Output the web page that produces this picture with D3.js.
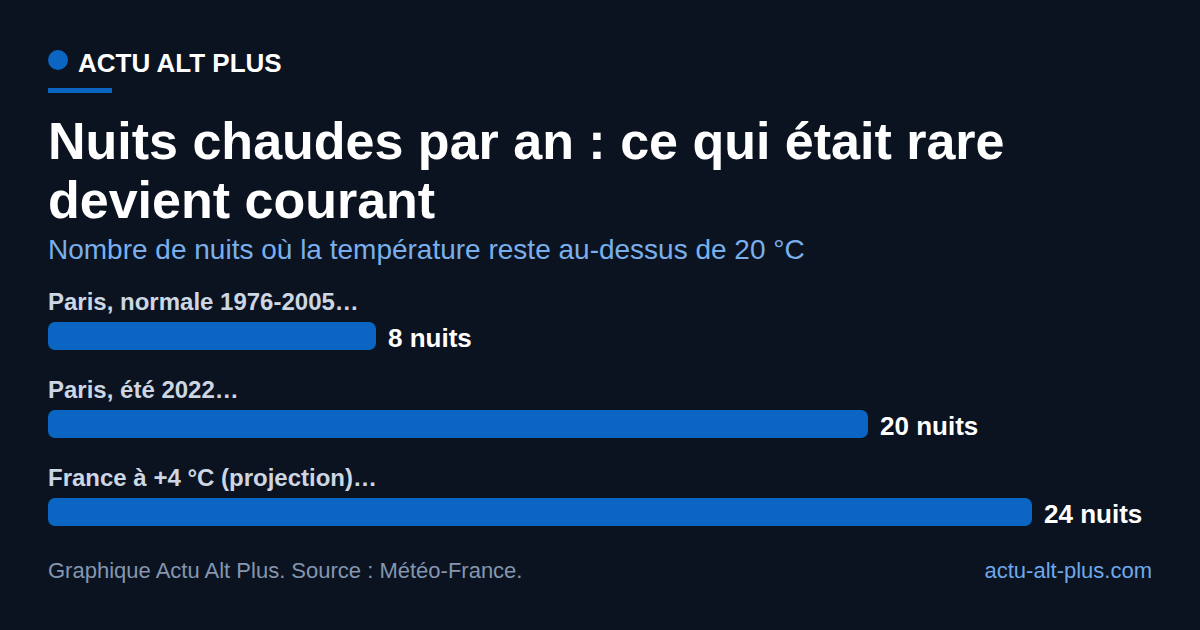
<!DOCTYPE html>
<html lang="fr">
<head>
  <meta charset="UTF-8">
  <title>Nuits chaudes par an</title>
  <script src="https://d3js.org/d3.v7.min.js"></script>
  <style>
    html, body { margin: 0; padding: 0; background: #0b1320; }
    svg { display: block; font-family: "Liberation Sans", Arial, sans-serif; }
    .brand { font-size: 26px; font-weight: bold; fill: #ffffff; }
    .title { font-size: 52px; font-weight: bold; fill: #ffffff; }
    .subtitle { font-size: 28px; fill: #79b0ec; }
    .cat { font-size: 24px; font-weight: bold; fill: #cdd6e3; }
    .val { font-size: 26px; font-weight: bold; fill: #ffffff; }
    .foot { font-size: 22px; fill: #8496b0; }
    .url { font-size: 22px; fill: #6ea8ea; text-anchor: end; }
  </style>
</head>
<body>
  <div id="chart"></div>
  <script>
    const categories = ["Paris, normale 1976-2005…", "Paris, été 2022…", "France à +4 °C (projection)…"];
    const nights = [8, 20, 24];
    const unit = "nuits";

    const width = 1200, height = 630;
    const left = 48;

    const svg = d3.select("#chart")
      .append("svg")
      .attr("width", width)
      .attr("height", height);

    svg.append("rect").attr("width", width).attr("height", height).attr("fill", "#0b1320");

    // brand header
    svg.append("circle").attr("cx", 58).attr("cy", 60).attr("r", 10).attr("fill", "#0b66c3");
    svg.append("text").attr("class", "brand").attr("x", 78).attr("y", 72).text("ACTU ALT PLUS");
    svg.append("rect").attr("x", left).attr("y", 88).attr("width", 64).attr("height", 5).attr("fill", "#0b66c3");

    // title + subtitle
    svg.append("text").attr("class", "title").attr("x", left).attr("y", 159)
      .text("Nuits chaudes par an : ce qui était rare");
    svg.append("text").attr("class", "title").attr("x", left).attr("y", 218)
      .text("devient courant");
    svg.append("text").attr("class", "subtitle").attr("x", left).attr("y", 259)
      .text("Nombre de nuits où la température reste au-dessus de 20 °C");

    // scales
    const x = d3.scaleLinear().domain([0, 24]).range([left, 1032]);
    const y = d3.scaleBand().domain(categories).range([322, 586]).paddingInner(0).paddingOuter(0);
    const barH = 28;

    const rows = svg.selectAll(".row")
      .data(categories.map((c, i) => ({ cat: c, v: nights[i] })))
      .enter()
      .append("g")
      .attr("class", "row");

    rows.append("text")
      .attr("class", "cat")
      .attr("x", left)
      .attr("y", d => y(d.cat) - 12)
      .text(d => d.cat);

    rows.append("rect")
      .attr("x", x(0))
      .attr("y", d => y(d.cat))
      .attr("width", d => x(d.v) - x(0))
      .attr("height", barH)
      .attr("rx", 7)
      .attr("fill", "#0b66c3");

    rows.append("text")
      .attr("class", "val")
      .attr("x", d => x(d.v) + 12)
      .attr("y", d => y(d.cat) + barH / 2 + 11)
      .text(d => d.v + " " + unit);

    // footer
    svg.append("text").attr("class", "foot").attr("x", left).attr("y", 578)
      .text("Graphique Actu Alt Plus. Source : Météo-France.");
    svg.append("text").attr("class", "url").attr("x", 1152).attr("y", 578)
      .text("actu-alt-plus.com");
  </script>
</body>
</html>
